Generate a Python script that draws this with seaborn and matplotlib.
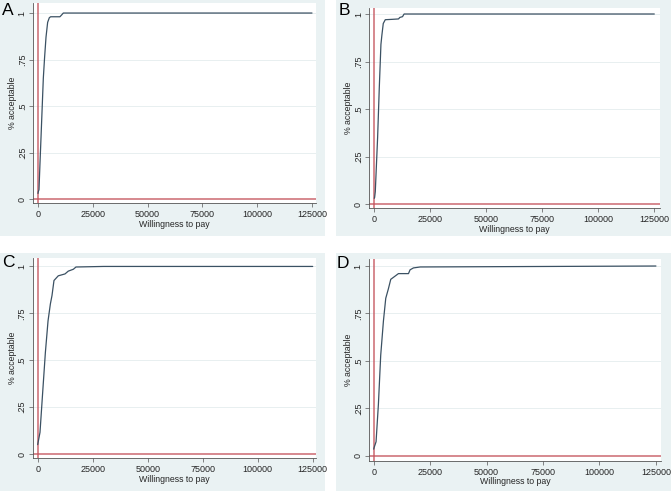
import numpy as np
import pandas as pd
import matplotlib
matplotlib.use("Agg")
import matplotlib.pyplot as plt
from matplotlib.patches import Rectangle
import seaborn as sns

# Acceptability curves (willingness to pay vs % acceptable)
wtp_a = [0, 150, 450, 900, 1370, 1900, 2430, 3000, 3650, 4400, 5170, 5780, 10000, 10800, 11550, 125000]
acc_a = [0.03, 0.04, 0.05, 0.19, 0.33, 0.49, 0.65, 0.76, 0.87, 0.95, 0.975, 0.98, 0.98, 0.99, 1.0, 1.0]

wtp_b = [0, 150, 440, 1480, 2220, 2960, 3400, 4000, 4900, 8140, 10800, 11400, 12600, 13300, 125000]
acc_b = [0.03, 0.035, 0.065, 0.35, 0.61, 0.84, 0.89, 0.95, 0.97, 0.972, 0.974, 0.982, 0.986, 1.0, 1.0]

wtp_c = [0, 150, 1040, 2270, 3480, 4700, 5760, 6500, 7400, 9350, 12400, 13900, 16200, 17400, 30000, 125000]
acc_c = [0.05, 0.06, 0.115, 0.33, 0.54, 0.71, 0.80, 0.845, 0.925, 0.95, 0.96, 0.975, 0.985, 0.997, 1.0, 1.0]

wtp_d = [0, 150, 1040, 2070, 3100, 4300, 5330, 6500, 7550, 8700, 10950, 15400, 16100, 17600, 20600, 125000]
acc_d = [0.035, 0.042, 0.074, 0.27, 0.53, 0.71, 0.83, 0.88, 0.93, 0.94, 0.96, 0.96, 0.98, 0.99, 0.995, 1.0]

panel_letters = ["A", "B", "C", "D"]
x_ticks = [0, 25000, 50000, 75000, 100000, 125000]
y_ticks = [0, 0.25, 0.5, 0.75, 1]
y_tick_labels = ["0", ".25", ".5", ".75", "1"]

sns.set_style("white")
plt.rcParams['font.family'] = ['Liberation Sans', 'DejaVu Sans']

W, H = 671, 491
fig = plt.figure(figsize=(W / 100, H / 100), dpi=100)
fig.patch.set_facecolor("white")

BG = "#EAF2F3"
CURVE = "#3B5163"
RED = "#C4515B"
GRID = "#E4ECEE"

# layout in pixels (top-origin): background box, plot box, axis limits, letter pos
layout = [
    dict(bg=(0, 0, 325, 236), box=(33, 3, 316, 203), xlim=(-2281, 126825), ylim=(-0.0215, 1.054), txt=(2, 3)),
    dict(bg=(336, 0, 671, 236), box=(369.3, 8, 660, 208.3), xlim=(-2232, 127545), ylim=(-0.0226, 1.0316), txt=(339, 3)),
    dict(bg=(0, 253, 325, 491), box=(32.5, 258, 316, 458), xlim=(-2364, 126500), ylim=(-0.0213, 1.045), txt=(2, 255)),
    dict(bg=(336, 253, 671, 491), box=(369, 259, 661, 460.7), xlim=(-2089, 127244), ylim=(-0.026, 1.037), txt=(337, 256)),
]

curves = [(wtp_a, acc_a), (wtp_b, acc_b), (wtp_c, acc_c), (wtp_d, acc_d)]

for lay, (wtp, acc), letter in zip(layout, curves, panel_letters):
    bx0, by0, bx1, by1 = lay["bg"]
    fig.patches.append(Rectangle((bx0 / W, 1 - by1 / H), (bx1 - bx0) / W, (by1 - by0) / H,
                                 transform=fig.transFigure, facecolor=BG, edgecolor="none", zorder=-5))
    x0, y0, x1, y1 = lay["box"]
    ax = fig.add_axes([x0 / W, 1 - y1 / H, (x1 - x0) / W, (y1 - y0) / H])
    ax.set_facecolor("white")
    ax.set_zorder(1)

    df = pd.DataFrame({"wtp": wtp, "acc": acc})
    for g in y_ticks[1:]:
        ax.axhline(g, color=GRID, lw=0.6, zorder=0)
    ax.axvline(0, color=RED, lw=1.2, alpha=0.8, zorder=1)
    ax.axhline(0, color=RED, lw=1.2, alpha=0.8, zorder=1)
    sns.lineplot(data=df, x="wtp", y="acc", ax=ax, color=CURVE, lw=0.9,
                 estimator=None, sort=False, zorder=2)

    ax.set_xlim(*lay["xlim"])
    ax.set_ylim(*lay["ylim"])
    ax.set_xticks(x_ticks)
    ax.set_xticklabels([str(t) for t in x_ticks], fontsize=6.5)
    ax.set_yticks(y_ticks)
    ax.set_yticklabels(y_tick_labels, fontsize=6.5, rotation=90, va="center")
    ax.tick_params(axis="x", direction="out", length=3, width=0.5, color="#555555", pad=2, bottom=True)
    ax.tick_params(axis="y", direction="out", length=3, width=0.5, color="#555555", pad=1.5, left=True)
    ax.set_xlabel("Willingness to pay", fontsize=6.3, labelpad=0.5)
    ax.set_ylabel("% acceptable", fontsize=6.3, labelpad=0.5)
    for s in ["top", "right"]:
        ax.spines[s].set_visible(False)
    for s in ["left", "bottom"]:
        ax.spines[s].set_color("#555555")
        ax.spines[s].set_linewidth(0.6)

    tx, ty = lay["txt"]
    fig.text(tx / W, 1 - ty / H, letter, fontsize=12.5, va="top", ha="left", color="black", zorder=3)

fig.savefig("out.png", dpi=100)
